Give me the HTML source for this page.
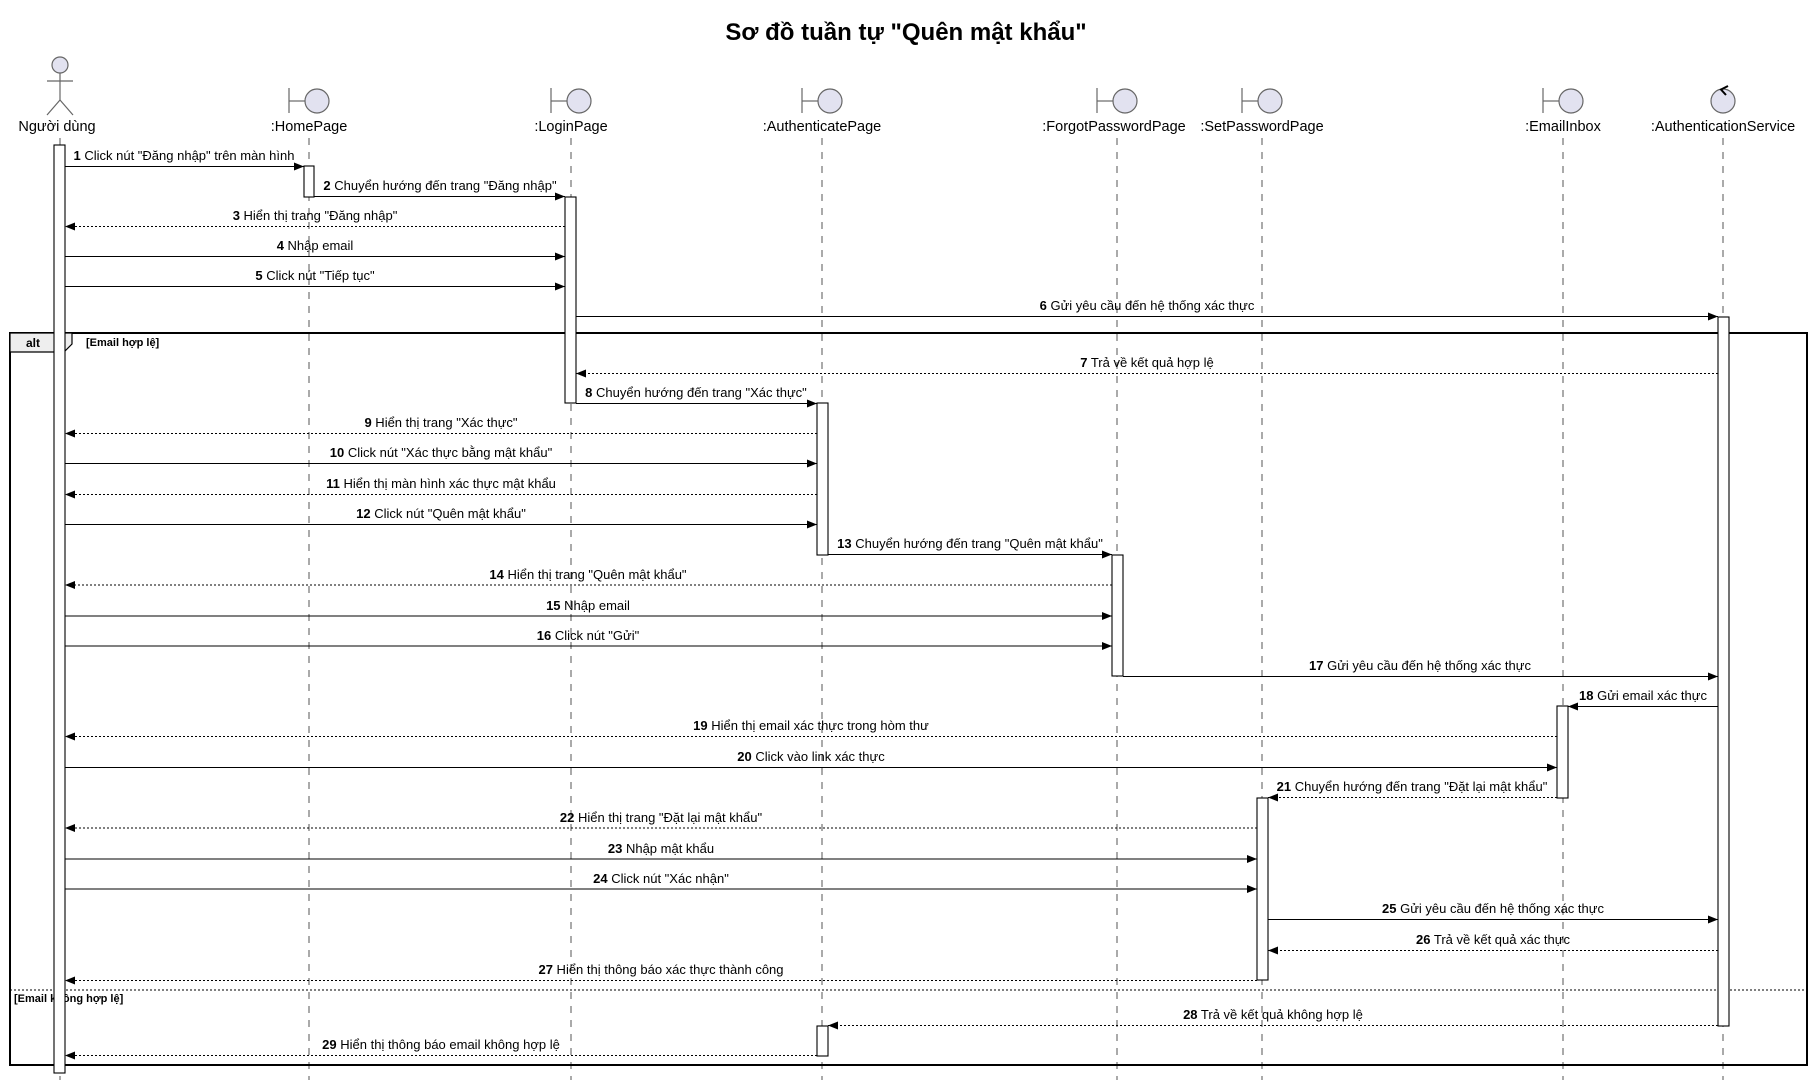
<!DOCTYPE html>
<html><head><meta charset="utf-8"><style>
html,body{margin:0;padding:0;background:#fff;}
svg{display:block;}
text{font-family:"Liberation Sans","DejaVu Sans",sans-serif;}
.m{font-size:13px;fill:#000;text-anchor:middle;}
.m tspan.n{font-weight:bold;}
.p{font-size:14.5px;fill:#000;text-anchor:middle;}
.ll{stroke:#555;stroke-width:1;stroke-dasharray:7,7;}
.s{stroke:#000;stroke-width:1.1;fill:none;}
.d{stroke:#000;stroke-width:1.1;fill:none;stroke-dasharray:2,2;}
.act{fill:#fff;stroke:#000;stroke-width:1.1;}
.ic{fill:#e2e2f0;stroke:#666;stroke-width:1.2;}
</style></head><body>
<svg width="1813" height="1088" viewBox="0 0 1813 1088" xmlns="http://www.w3.org/2000/svg">
<defs>
<marker id="ar" viewBox="0 0 10 8" refX="10" refY="4" markerWidth="10" markerHeight="8" markerUnits="userSpaceOnUse" orient="auto"><path d="M0,0 L10,4 L0,8 z" fill="#000"/></marker>
</defs>
<text x="906" y="40" style="font-size:24px;font-weight:bold;text-anchor:middle;">Sơ đồ tuần tự "Quên mật khẩu"</text>

<line class="ll" x1="60" y1="138" x2="60" y2="1080"/>
<line class="ll" x1="309" y1="138" x2="309" y2="1080"/>
<line class="ll" x1="571" y1="138" x2="571" y2="1080"/>
<line class="ll" x1="822" y1="138" x2="822" y2="1080"/>
<line class="ll" x1="1117" y1="138" x2="1117" y2="1080"/>
<line class="ll" x1="1262" y1="138" x2="1262" y2="1080"/>
<line class="ll" x1="1563" y1="138" x2="1563" y2="1080"/>
<line class="ll" x1="1723" y1="138" x2="1723" y2="1080"/>

<circle cx="60" cy="65" r="8" class="ic"/>
<line x1="60" y1="73" x2="60" y2="100" stroke="#666" stroke-width="1.2"/>
<line x1="47" y1="81" x2="73" y2="81" stroke="#666" stroke-width="1.2"/>
<line x1="60" y1="100" x2="47" y2="115" stroke="#666" stroke-width="1.2"/>
<line x1="60" y1="100" x2="73" y2="115" stroke="#666" stroke-width="1.2"/>
<text class="p" x="57" y="131">Người dùng</text>

<g>
<line x1="289" y1="88" x2="289" y2="113" stroke="#666" stroke-width="1.2"/><line x1="289" y1="101" x2="305" y2="101" stroke="#666" stroke-width="1.2"/><circle cx="317" cy="101" r="12" class="ic"/>
<text class="p" x="309" y="131">:HomePage</text>
<line x1="551" y1="88" x2="551" y2="113" stroke="#666" stroke-width="1.2"/><line x1="551" y1="101" x2="567" y2="101" stroke="#666" stroke-width="1.2"/><circle cx="579" cy="101" r="12" class="ic"/>
<text class="p" x="571" y="131">:LoginPage</text>
<line x1="802" y1="88" x2="802" y2="113" stroke="#666" stroke-width="1.2"/><line x1="802" y1="101" x2="818" y2="101" stroke="#666" stroke-width="1.2"/><circle cx="830" cy="101" r="12" class="ic"/>
<text class="p" x="822" y="131">:AuthenticatePage</text>
<line x1="1097" y1="88" x2="1097" y2="113" stroke="#666" stroke-width="1.2"/><line x1="1097" y1="101" x2="1113" y2="101" stroke="#666" stroke-width="1.2"/><circle cx="1125" cy="101" r="12" class="ic"/>
<text class="p" x="1114" y="131">:ForgotPasswordPage</text>
<line x1="1242" y1="88" x2="1242" y2="113" stroke="#666" stroke-width="1.2"/><line x1="1242" y1="101" x2="1258" y2="101" stroke="#666" stroke-width="1.2"/><circle cx="1270" cy="101" r="12" class="ic"/>
<text class="p" x="1262" y="131">:SetPasswordPage</text>
<line x1="1543" y1="88" x2="1543" y2="113" stroke="#666" stroke-width="1.2"/><line x1="1543" y1="101" x2="1559" y2="101" stroke="#666" stroke-width="1.2"/><circle cx="1571" cy="101" r="12" class="ic"/>
<text class="p" x="1563" y="131">:EmailInbox</text>
<circle cx="1723" cy="101" r="12" class="ic"/>
<path d="M1728,86 L1721,89.5 L1726,95" stroke="#000" stroke-width="2" fill="none"/>
<text class="p" x="1723" y="131">:AuthenticationService</text>
</g>

<rect x="10" y="333" width="1797" height="732" fill="none" stroke="#000" stroke-width="2"/>
<path d="M10,333 L72,333 L72,344 L64,352 L10,352 z" fill="#eeeeee" stroke="#000" stroke-width="1.2"/>
<text x="26" y="347" style="font-size:12px;font-weight:bold;">alt</text>
<text x="86" y="346" style="font-size:11px;font-weight:bold;">[Email hợp lệ]</text>
<line x1="10" y1="990" x2="1807" y2="990" stroke="#000" stroke-width="1" stroke-dasharray="2,2"/>
<text x="14" y="1002" style="font-size:11px;font-weight:bold;">[Email không hợp lệ]</text>

<rect class="act" x="54" y="145" width="11" height="928"/>
<rect class="act" x="304" y="166" width="10" height="31"/>
<rect class="act" x="565" y="197" width="11" height="206"/>
<rect class="act" x="817" y="403" width="11" height="152"/>
<rect class="act" x="817" y="1026" width="11" height="30"/>
<rect class="act" x="1112" y="555" width="11" height="121"/>
<rect class="act" x="1557" y="706" width="11" height="92"/>
<rect class="act" x="1257" y="798" width="11" height="182"/>
<rect class="act" x="1718" y="317" width="11" height="709"/>

<line class="s" x1="65" y1="166.5" x2="304" y2="166.5" marker-end="url(#ar)"/><text class="m" x="184" y="160"><tspan class="n">1</tspan> Click nút "Đăng nhập" trên màn hình</text>
<line class="s" x1="314" y1="196.5" x2="565" y2="196.5" marker-end="url(#ar)"/><text class="m" x="440" y="190"><tspan class="n">2</tspan> Chuyển hướng đến trang "Đăng nhập"</text>
<line class="d" x1="565" y1="226.5" x2="65" y2="226.5" marker-end="url(#ar)"/><text class="m" x="315" y="220"><tspan class="n">3</tspan> Hiển thị trang "Đăng nhập"</text>
<line class="s" x1="65" y1="256.5" x2="565" y2="256.5" marker-end="url(#ar)"/><text class="m" x="315" y="250"><tspan class="n">4</tspan> Nhập email</text>
<line class="s" x1="65" y1="286.5" x2="565" y2="286.5" marker-end="url(#ar)"/><text class="m" x="315" y="280"><tspan class="n">5</tspan> Click nút "Tiếp tục"</text>
<line class="s" x1="576" y1="316.5" x2="1718" y2="316.5" marker-end="url(#ar)"/><text class="m" x="1147" y="310"><tspan class="n">6</tspan> Gửi yêu cầu đến hệ thống xác thực</text>
<line class="d" x1="1718" y1="373.5" x2="576" y2="373.5" marker-end="url(#ar)"/><text class="m" x="1147" y="367"><tspan class="n">7</tspan> Trả về kết quả hợp lệ</text>
<line class="s" x1="576" y1="403.5" x2="817" y2="403.5" marker-end="url(#ar)"/><text class="m" x="696" y="397"><tspan class="n">8</tspan> Chuyển hướng đến trang "Xác thực"</text>
<line class="d" x1="817" y1="433.5" x2="65" y2="433.5" marker-end="url(#ar)"/><text class="m" x="441" y="427"><tspan class="n">9</tspan> Hiển thị trang "Xác thực"</text>
<line class="s" x1="65" y1="463.5" x2="817" y2="463.5" marker-end="url(#ar)"/><text class="m" x="441" y="457"><tspan class="n">10</tspan> Click nút "Xác thực bằng mật khẩu"</text>
<line class="d" x1="817" y1="494.5" x2="65" y2="494.5" marker-end="url(#ar)"/><text class="m" x="441" y="488"><tspan class="n">11</tspan> Hiển thị màn hình xác thực mật khẩu</text>
<line class="s" x1="65" y1="524.5" x2="817" y2="524.5" marker-end="url(#ar)"/><text class="m" x="441" y="518"><tspan class="n">12</tspan> Click nút "Quên mật khẩu"</text>
<line class="s" x1="828" y1="554.5" x2="1112" y2="554.5" marker-end="url(#ar)"/><text class="m" x="970" y="548"><tspan class="n">13</tspan> Chuyển hướng đến trang "Quên mật khẩu"</text>
<line class="d" x1="1112" y1="585" x2="65" y2="585" marker-end="url(#ar)"/><text class="m" x="588" y="579"><tspan class="n">14</tspan> Hiển thị trang "Quên mật khẩu"</text>
<line class="s" x1="65" y1="616" x2="1112" y2="616" marker-end="url(#ar)"/><text class="m" x="588" y="610"><tspan class="n">15</tspan> Nhập email</text>
<line class="s" x1="65" y1="646" x2="1112" y2="646" marker-end="url(#ar)"/><text class="m" x="588" y="640"><tspan class="n">16</tspan> Click nút "Gửi"</text>
<line class="s" x1="1123" y1="676.5" x2="1718" y2="676.5" marker-end="url(#ar)"/><text class="m" x="1420" y="670"><tspan class="n">17</tspan> Gửi yêu cầu đến hệ thống xác thực</text>
<line class="s" x1="1718" y1="706.5" x2="1568" y2="706.5" marker-end="url(#ar)"/><text class="m" x="1643" y="700"><tspan class="n">18</tspan> Gửi email xác thực</text>
<line class="d" x1="1557" y1="736.5" x2="65" y2="736.5" marker-end="url(#ar)"/><text class="m" x="811" y="730"><tspan class="n">19</tspan> Hiển thị email xác thực trong hòm thư</text>
<line class="s" x1="65" y1="767.5" x2="1557" y2="767.5" marker-end="url(#ar)"/><text class="m" x="811" y="761"><tspan class="n">20</tspan> Click vào link xác thực</text>
<line class="d" x1="1557" y1="797.5" x2="1268" y2="797.5" marker-end="url(#ar)"/><text class="m" x="1412" y="791"><tspan class="n">21</tspan> Chuyển hướng đến trang "Đặt lại mật khẩu"</text>
<line class="d" x1="1257" y1="828" x2="65" y2="828" marker-end="url(#ar)"/><text class="m" x="661" y="822"><tspan class="n">22</tspan> Hiển thị trang "Đặt lại mật khẩu"</text>
<line class="s" x1="65" y1="859" x2="1257" y2="859" marker-end="url(#ar)"/><text class="m" x="661" y="853"><tspan class="n">23</tspan> Nhập mật khẩu</text>
<line class="s" x1="65" y1="889" x2="1257" y2="889" marker-end="url(#ar)"/><text class="m" x="661" y="883"><tspan class="n">24</tspan> Click nút "Xác nhận"</text>
<line class="s" x1="1268" y1="919.5" x2="1718" y2="919.5" marker-end="url(#ar)"/><text class="m" x="1493" y="913"><tspan class="n">25</tspan> Gửi yêu cầu đến hệ thống xác thực</text>
<line class="d" x1="1718" y1="950.5" x2="1268" y2="950.5" marker-end="url(#ar)"/><text class="m" x="1493" y="944"><tspan class="n">26</tspan> Trả về kết quả xác thực</text>
<line class="d" x1="1257" y1="980.5" x2="65" y2="980.5" marker-end="url(#ar)"/><text class="m" x="661" y="974"><tspan class="n">27</tspan> Hiển thị thông báo xác thực thành công</text>
<line class="d" x1="1718" y1="1025.5" x2="828" y2="1025.5" marker-end="url(#ar)"/><text class="m" x="1273" y="1019"><tspan class="n">28</tspan> Trả về kết quả không hợp lệ</text>
<line class="d" x1="817" y1="1055.5" x2="65" y2="1055.5" marker-end="url(#ar)"/><text class="m" x="441" y="1049"><tspan class="n">29</tspan> Hiển thị thông báo email không hợp lệ</text>
</svg>
</body></html>
